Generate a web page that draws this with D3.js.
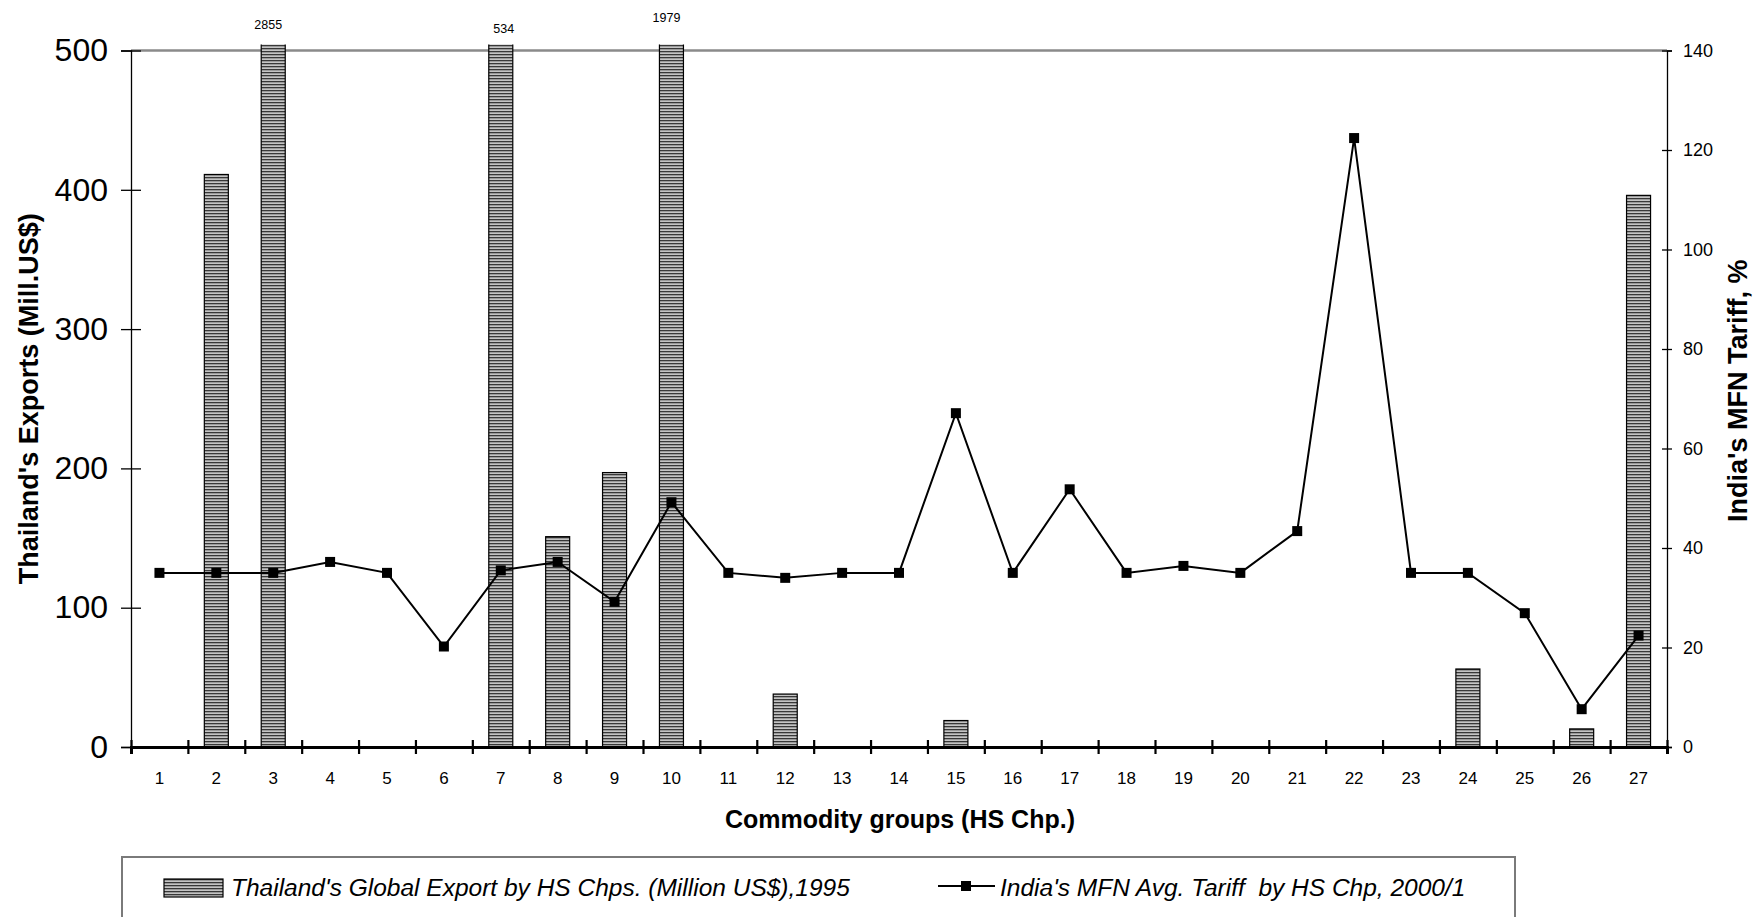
<!DOCTYPE html>
<html>
<head>
<meta charset="utf-8">
<script src="https://cdn.jsdelivr.net/npm/d3@7"></script>
<style>
  html, body { margin: 0; padding: 0; background: #fff; }
  svg { display: block; font-family: "Liberation Sans", Arial, sans-serif; }
  .legend-text { white-space: pre; }
</style>
</head>
<body>
<svg id="chart" width="1754" height="917"></svg>
<script>
// HS chapter groups 1..27
const categories = d3.range(1, 28).map(String);

// Thailand's global exports by HS chapter, 1995 (million US$)
const exportsMillUSD = [0, 411, 2855, 0, 0, 0, 534, 151, 197, 1979, 0, 38, 0, 0, 19,
                        0, 0, 0, 0, 0, 0, 0, 0, 56, 0, 13, 396];

// India's MFN average tariff by HS chapter, 2000/1 (%)
const tariffPct = [35, 35, 35, 37.2, 35, 20.2, 35.5, 37.2, 29.2, 49.2, 35, 34, 35, 35, 67.1,
                   35, 51.8, 35, 36.4, 35, 43.4, 122.4, 35, 35, 26.9, 7.6, 22.4];

const leftTicks = [0, 100, 200, 300, 400, 500];
const rightTicks = [0, 20, 40, 60, 80, 100, 120, 140];

const seriesNames = [
  "Thailand's Global Export by HS Chps. (Million US$),1995",
  "India's MFN Avg. Tariff  by HS Chp, 2000/1"
];

const svg = d3.select("#chart");
const plot = { left: 131, right: 1667, top: 50.5, bottom: 747 };

// Pattern fill for the export bars: fine horizontal stripes
const defs = svg.append("defs");
const pat = defs.append("pattern")
  .attr("id", "hstripe").attr("patternUnits", "userSpaceOnUse")
  .attr("width", 6).attr("height", 3);
pat.append("rect").attr("width", 6).attr("height", 3).attr("fill", "#c4c4c4");
pat.append("rect").attr("width", 6).attr("height", 1.3).attr("fill", "#383838");

defs.append("clipPath").attr("id", "plotclip")
  .append("rect")
  .attr("x", plot.left).attr("y", plot.top - 6)
  .attr("width", plot.right - plot.left).attr("height", plot.bottom - plot.top + 6);

// Scales
const pad = 0.578;
const x = d3.scaleBand().domain(categories)
  .range([plot.left, plot.right]).paddingInner(pad).paddingOuter(pad / 2);
const xEdge = d3.scaleLinear().domain([0, categories.length]).range([plot.left, plot.right]);
const yL = d3.scaleLinear().domain([0, 500]).range([plot.bottom, plot.top]);
const yR = d3.scaleLinear().domain([0, 140]).range([plot.bottom, plot.top]);

// Top border of the plot area
svg.append("line")
  .attr("x1", plot.left).attr("x2", plot.right)
  .attr("y1", yL(500)).attr("y2", yL(500))
  .attr("stroke", "#8a8a8a").attr("stroke-width", 2.5);

// Bars
const barData = categories.map((c, i) => ({ c, v: exportsMillUSD[i] })).filter(d => d.v > 0);
svg.append("g").attr("clip-path", "url(#plotclip)")
  .selectAll("rect").data(barData).join("rect")
  .attr("x", d => x(d.c)).attr("width", x.bandwidth())
  .attr("y", d => yL(d.v)).attr("height", d => yL(0) - yL(d.v))
  .attr("fill", "url(#hstripe)").attr("stroke", "#000").attr("stroke-width", 1.2);

// Value labels for bars that run past the axis maximum
const labelNudge = { "3": [-5, 29], "7": [3, 33], "10": [-5, 22] };
svg.append("g").selectAll("text")
  .data(barData.filter(d => d.v > yL.domain()[1])).join("text")
  .attr("x", d => x(d.c) + x.bandwidth() / 2 + (labelNudge[d.c] ? labelNudge[d.c][0] : 0))
  .attr("y", d => labelNudge[d.c] ? labelNudge[d.c][1] : 28)
  .attr("text-anchor", "middle").attr("font-size", 12.5).attr("fill", "#000")
  .text(d => d.v);

// Left axis
const gL = svg.append("g").attr("transform", `translate(${plot.left},0)`)
  .call(d3.axisLeft(yL).tickValues(leftTicks).tickSize(10).tickPadding(13));
gL.select(".domain").attr("stroke", "#000").attr("stroke-width", 1.3);
gL.selectAll(".tick line").attr("x1", 10).attr("stroke-width", 1.3);
gL.selectAll(".tick text").attr("font-size", 32).attr("font-family", "Liberation Sans, Arial");

// Right axis
const gR = svg.append("g").attr("transform", `translate(${plot.right},0)`)
  .call(d3.axisRight(yR).tickValues(rightTicks).tickSize(5).tickPadding(11));
gR.select(".domain").attr("stroke", "#000").attr("stroke-width", 1.3);
gR.selectAll(".tick line").attr("x1", -5).attr("stroke-width", 1.3);
gR.selectAll(".tick text").attr("font-size", 18).attr("font-family", "Liberation Sans, Arial");

// Bottom axis: boundary ticks across a heavy baseline, labels at band centres
const gB = svg.append("g").attr("transform", `translate(0,${plot.bottom})`)
  .call(d3.axisBottom(xEdge).tickValues(d3.range(0, categories.length + 1)).tickSize(7).tickFormat(""));
gB.select(".domain").attr("stroke", "#000").attr("stroke-width", 3);
gB.selectAll(".tick line").attr("y1", -7).attr("stroke-width", 2.2);
const gBL = svg.append("g").attr("transform", `translate(0,${plot.bottom})`)
  .call(d3.axisBottom(x).tickSize(0).tickPadding(25));
gBL.select(".domain").remove();
gBL.selectAll(".tick text").attr("font-size", 17).attr("font-family", "Liberation Sans, Arial");

// Tariff line with square markers
const pts = categories.map((c, i) => ({ c, v: tariffPct[i] }));
const cx = d => x(d.c) + x.bandwidth() / 2;
svg.append("path").datum(pts)
  .attr("d", d3.line().x(cx).y(d => yR(d.v)))
  .attr("fill", "none").attr("stroke", "#000").attr("stroke-width", 2);
const ms = 10;
svg.append("g").selectAll("rect").data(pts).join("rect")
  .attr("x", d => cx(d) - ms / 2).attr("y", d => yR(d.v) - ms / 2)
  .attr("width", ms).attr("height", ms).attr("fill", "#000");

// Axis titles
svg.append("text")
  .attr("transform", `translate(38,${(plot.top + plot.bottom) / 2}) rotate(-90)`)
  .attr("text-anchor", "middle").attr("font-size", 27).attr("font-weight", "bold")
  .text("Thailand's Exports (Mill.US$)");
svg.append("text")
  .attr("transform", `translate(1747,${(plot.top + plot.bottom) / 2 - 8}) rotate(-90)`)
  .attr("text-anchor", "middle").attr("font-size", 27).attr("font-weight", "bold")
  .text("India's MFN Tariff, %");
svg.append("text")
  .attr("x", 900).attr("y", 828)
  .attr("text-anchor", "middle").attr("font-size", 25).attr("font-weight", "bold")
  .text("Commodity groups (HS Chp.)");

// Legend
const lg = svg.append("g");
lg.append("rect").attr("x", 122).attr("y", 857).attr("width", 1393).attr("height", 100)
  .attr("fill", "#fff").attr("stroke", "#7a7a7a").attr("stroke-width", 2);
lg.append("rect").attr("x", 164).attr("y", 879).attr("width", 59).attr("height", 18)
  .attr("fill", "url(#hstripe)").attr("stroke", "#000").attr("stroke-width", 1.2);
lg.append("text").attr("class", "legend-text").attr("x", 231).attr("y", 896)
  .attr("font-size", 24.5).attr("font-style", "italic").text(seriesNames[0]);
lg.append("line").attr("x1", 938).attr("x2", 995).attr("y1", 886).attr("y2", 886)
  .attr("stroke", "#000").attr("stroke-width", 2);
lg.append("rect").attr("x", 966 - ms / 2).attr("y", 886 - ms / 2)
  .attr("width", ms).attr("height", ms).attr("fill", "#000");
lg.append("text").attr("class", "legend-text").attr("x", 1000).attr("y", 896)
  .attr("font-size", 24.5).attr("font-style", "italic").text(seriesNames[1]);
</script>
</body>
</html>
